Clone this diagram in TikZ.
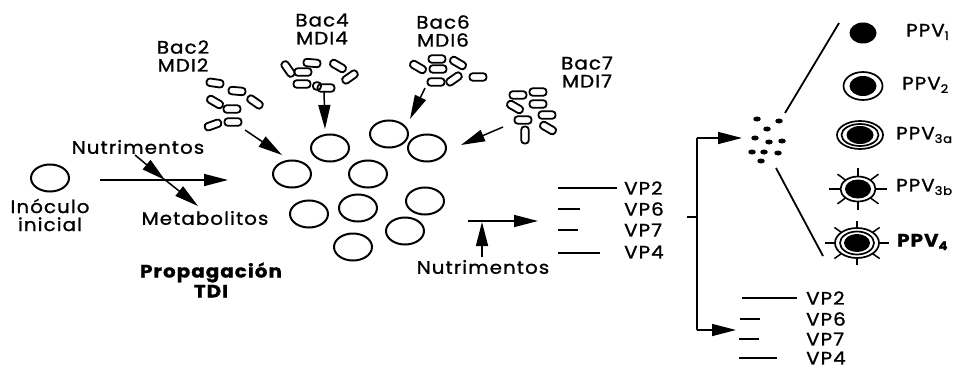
\documentclass[tikz,border=0pt]{standalone}
\usepackage{fontspec}
\setmainfont{Poppins}[LetterSpace=6,FakeStretch=1.1,FakeBold=1.2]
\usetikzlibrary{arrows.meta,shapes.geometric,calc}

\tikzset{
  cell/.style={ellipse, draw, line width=2pt, minimum width=38pt, minimum height=27pt, inner sep=0pt},
  bac/.style={rectangle, draw, line width=1.8pt, rounded corners=3.2pt, minimum width=17pt, minimum height=7.5pt, inner sep=0pt},
  arr/.style={line width=1.5pt, -{Triangle[length=24pt,width=12pt]}},
  thinline/.style={line width=1.3pt},
  lbl/.style={align=center, inner sep=0pt},
  vp/.style={anchor=west, inner sep=0pt},
  dot/.style={ellipse, fill, minimum width=7.5pt, minimum height=5pt, inner sep=0pt},
  ring/.style={line width=1.7pt},
  spike/.style={line width=1.5pt}
}
\newcommand{\lowsub}[1]{\raisebox{-0.35ex}{\fontsize{12}{12}\selectfont #1}}

\begin{document}
\begin{tikzpicture}[x=1pt, y=-1pt, font=\fontsize{18}{18}\selectfont]
\useasboundingbox (0,0) rectangle (971,369);

% starting inoculum
\node[cell] (ino) at (50,178) {};
\node[lbl] (inotxt) at (50,215) {Inóculo\\inicial};

% feed / product arrows
\coordinate (fin) at (100,180);
\coordinate (fout) at (228,180);
\draw[arr] (fin) -- (fout);
\node[lbl] (nut1) at (138,147) {Nutrimentos};
\node[lbl] (met) at (205,218) {Metabolitos};
\coordinate (nut1a) at (135,155);
\coordinate (nut1b) at (165,180);
\coordinate (met1a) at (164,179);
\coordinate (met1b) at (198,206);
\draw[arr] (nut1a) -- (nut1b);
\draw[arr] (met1a) -- (met1b);

\node[lbl, font=\fontsize{18}{20}\selectfont\bfseries] (prop) at (211,280) {Propagación\\TDI};

% cell population
\node[cell] (c1) at (292,174) {};
\node[cell] (c2) at (330,148) {};
\node[cell] (c3) at (389,134) {};
\node[cell] (c4) at (427,148) {};
\node[cell] (c5) at (368,174) {};
\node[cell] (c6) at (309,214) {};
\node[cell] (c7) at (358,208) {};
\node[cell] (c8) at (425,201) {};
\node[cell] (c9) at (405,231) {};
\node[cell] (c10) at (353,247) {};

% bacterial groups
\node[lbl] (bac2) at (183,56) {Bac2\\MDI2};
\node[bac, rotate=-8] (b21) at (215,83) {};
\node[bac, rotate=-5] (b22) at (237,91) {};
\node[bac, rotate=-30] (b23) at (215,102) {};
\node[bac, rotate=-35] (b24) at (255,102) {};
\node[bac] (b25) at (232,109) {};
\node[bac, rotate=20] (b26) at (213,125) {};
\node[bac] (b27) at (233,122) {};

\node[lbl] (bac4) at (322,29) {Bac4\\MDI4};
\node[bac, rotate=-55] (b41) at (288,69) {};
\node[bac] (b42) at (303,72) {};
\node[bac, rotate=-5] (b43) at (312,63) {};
\node[bac, rotate=-30] (b44) at (338,66) {};
\node[bac, rotate=35] (b45) at (350,77) {};
\node[bac] (b46) at (302,84) {};
\node[bac, minimum width=8pt] (b47) at (317,86) {};
\node[bac] (b48) at (326,88) {};

\node[lbl] (bac6) at (443,31) {Bac6\\MDI6};
\node[bac, rotate=-30] (b61) at (418,67) {};
\node[bac] (b62) at (437,59) {};
\node[bac] (b63) at (438,69) {};
\node[bac, rotate=-30] (b64) at (458,63) {};
\node[bac] (b65) at (436,82) {};
\node[bac, rotate=35] (b66) at (454,79) {};
\node[bac] (b67) at (478,77) {};

\node[lbl] (bac7) at (587,72) {Bac7\\MDI7};
\node[bac] (b71) at (518,95) {};
\node[bac] (b72) at (538,92) {};
\node[bac, rotate=-30] (b73) at (515,107) {};
\node[bac] (b74) at (538,104) {};
\node[bac] (b75) at (523,120) {};
\node[bac] (b76) at (547,115) {};
\node[bac, rotate=-30] (b77) at (548,128) {};
\node[bac, rotate=90] (b78) at (525,135) {};

% inoculation arrows
\coordinate (a2s) at (245,130); \coordinate (a2e) at (282,155);
\coordinate (a4s) at (324,91);  \coordinate (a4e) at (325,129);
\coordinate (a6s) at (425,88);  \coordinate (a6e) at (410,119);
\coordinate (a7s) at (503,127); \coordinate (a7e) at (461,145);
\draw[arr] (a2s) -- (a2e);
\draw[arr] (a4s) -- (a4e);
\draw[arr] (a6s) -- (a6e);
\draw[arr] (a7s) -- (a7e);

% feed into the reactor
\coordinate (m1) at (468,221); \coordinate (m2) at (538,221);
\coordinate (mj) at (482,222);
\draw[arr] (m1) -- (m2);
\node[lbl] (nut2) at (483,267) {Nutrimentos};
\coordinate (nut2a) at (482,257);
\draw[arr] (nut2a) -- (mj);

% first virus band pattern
\coordinate (l1a) at (558,188); \coordinate (l1b) at (617,188);
\coordinate (l2a) at (558,209); \coordinate (l2b) at (580,209);
\coordinate (l3a) at (558,230); \coordinate (l3b) at (578,230);
\coordinate (l4a) at (558,253); \coordinate (l4b) at (600,253);
\draw[thinline] (l1a) -- (l1b);
\draw[thinline] (l2a) -- (l2b);
\draw[thinline] (l3a) -- (l3b);
\draw[thinline] (l4a) -- (l4b);
\node[vp] (vp2a) at (624,188) {VP2};
\node[vp] (vp6a) at (624,209) {VP6};
\node[vp] (vp7a) at (624,230) {VP7};
\node[vp] (vp4a) at (624,252) {VP4};

% branching bracket
\coordinate (bt) at (687,217); \coordinate (bj) at (697,217);
\coordinate (btop) at (697,138); \coordinate (bbot) at (697,330);
\coordinate (dotsin) at (742,138); \coordinate (lowin) at (736,330);
\draw[thinline] (bt) -- (bj);
\draw[thinline] (btop) -- (bbot);
\draw[arr] (btop) -- (dotsin);
\draw[arr] (bbot) -- (lowin);

% virus particles
\node[dot] (d1) at (757,119) {};
\node[dot] (d2) at (779,121) {};
\node[dot] (d3) at (767,129) {};
\node[dot] (d4) at (755,138) {};
\node[dot] (d5) at (769,142) {};
\node[dot] (d6) at (782,141) {};
\node[dot] (d7) at (752,152) {};
\node[dot] (d8) at (764,152) {};
\node[dot] (d9) at (778,153) {};
\node[dot] (d10) at (761,161) {};

\coordinate (u1) at (785,113); \coordinate (u2) at (839,23);
\coordinate (w1) at (776,168); \coordinate (w2) at (823,256);
\draw[line width=1.8pt] (u1) -- (u2);
\draw[line width=1.8pt] (w1) -- (w2);

% particle types
\fill (863,33) ellipse [x radius=13.5, y radius=10.5];
\node[vp] (ppv1) at (906,32) {PPV\lowsub{1}};

\draw[ring] (863,86) ellipse [x radius=19.5, y radius=14];
\fill (863,86) ellipse [x radius=13.5, y radius=10];
\node[vp] (ppv2) at (902,85) {PPV\lowsub{2}};

\draw[ring] (860,135) ellipse [x radius=23, y radius=14];
\draw[ring] (860,135) ellipse [x radius=18.5, y radius=11];
\fill (860,135) ellipse [x radius=13.5, y radius=9];
\node[vp] (ppv3a) at (896,135) {PPV\lowsub{3a}};

\draw[ring] (858,189) ellipse [x radius=17.5, y radius=12.5];
\fill (858,189) ellipse [x radius=13, y radius=9.5];
\foreach \a in {0,45,...,315}
  \draw[spike] ($(858,189)+(\a:17.5 and 12.5)$) -- ($(858,189)+(\a:29 and 21)$);
\node[vp] (ppv3b) at (896,187) {PPV\lowsub{3b}};

\draw[ring] (857,243) ellipse [x radius=22, y radius=15];
\draw[ring] (857,243) ellipse [x radius=17, y radius=11.5];
\fill (857,243) ellipse [x radius=13, y radius=9];
\foreach \a in {0,45,...,315}
  \draw[spike] ($(857,243)+(\a:22 and 15)$) -- ($(857,243)+(\a:32 and 22)$);
\node[vp, font=\fontsize{18}{18}\selectfont\bfseries] (ppv4) at (897,242) {PPV\lowsub{4}};

% second virus band pattern
\coordinate (n1a) at (742,298); \coordinate (n1b) at (797,298);
\coordinate (n2a) at (740,319); \coordinate (n2b) at (760,319);
\coordinate (n3a) at (739,339); \coordinate (n3b) at (759,339);
\coordinate (n4a) at (739,358); \coordinate (n4b) at (777,358);
\draw[thinline] (n1a) -- (n1b);
\draw[thinline] (n2a) -- (n2b);
\draw[thinline] (n3a) -- (n3b);
\draw[thinline] (n4a) -- (n4b);
\node[vp] (vp2b) at (806,298) {VP2};
\node[vp] (vp6b) at (806,319) {VP6};
\node[vp] (vp7b) at (806,339) {VP7};
\node[vp] (vp4b) at (806,358) {VP4};
\end{tikzpicture}
\end{document}
